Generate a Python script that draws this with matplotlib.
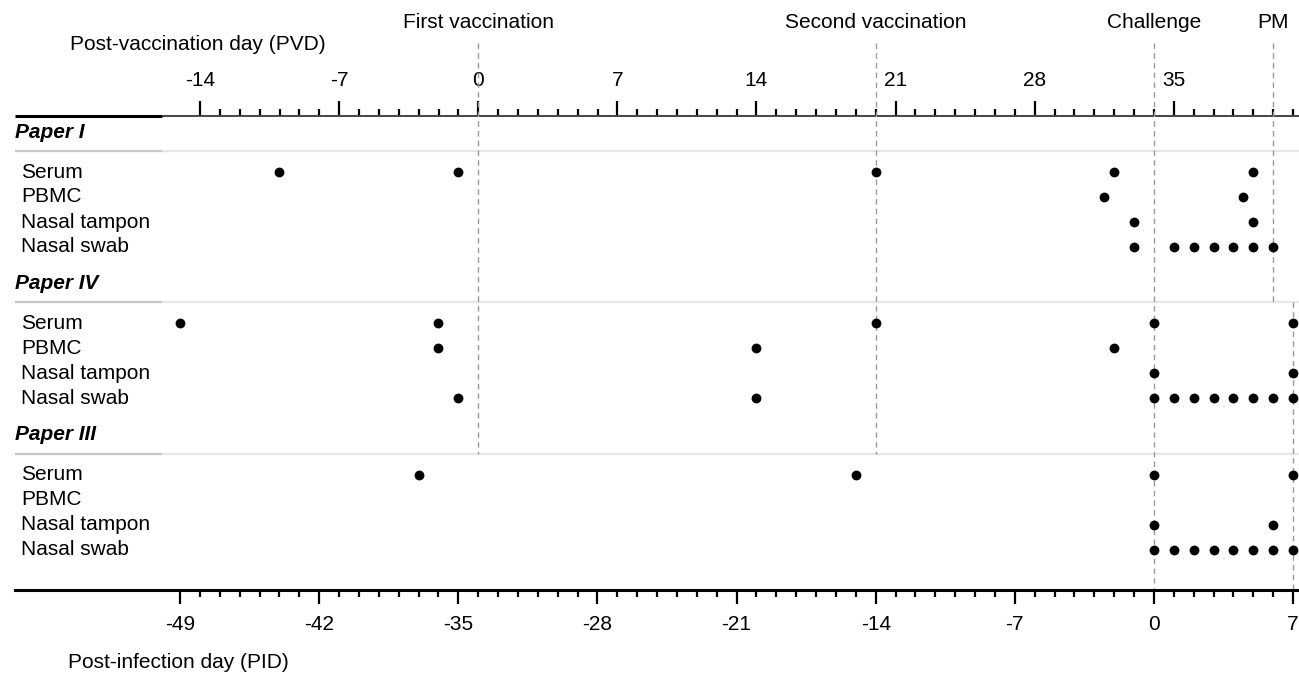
import matplotlib.pyplot as plt

plt.rcParams['font.family'] = ['Liberation Sans', 'DejaVu Sans']
plt.rcParams['axes.unicode_minus'] = False

# sampling days, post-infection day (PID)
samples = ['Serum', 'PBMC', 'Nasal tampon', 'Nasal swab']
papers = ['Paper I', 'Paper IV', 'Paper III']

p1_serum = [-44, -35, -14, -2, 5]
p1_pbmc = [-2.5, 4.5]
p1_tampon = [-1, 5]
p1_swab = [-1, 1, 2, 3, 4, 5, 6]

p4_serum = [-49, -36, -14, 0, 7]
p4_pbmc = [-36, -20, -2]
p4_tampon = [0, 7]
p4_swab = [-35, -20, 0, 1, 2, 3, 4, 5, 6, 7]

p3_serum = [-37, -15, 0, 7]
p3_pbmc = []
p3_tampon = [0, 6]
p3_swab = [0, 1, 2, 3, 4, 5, 6, 7]

paper_days = [
    [p1_serum, p1_pbmc, p1_tampon, p1_swab],
    [p4_serum, p4_pbmc, p4_tampon, p4_swab],
    [p3_serum, p3_pbmc, p3_tampon, p3_swab],
]

event_names = ['First vaccination', 'Second vaccination', 'Challenge', 'PM']
event_days = [-34, -14, 0, 6]
pvd_offset = 34  # PVD = PID + 34

W, H = 1299, 679
fs = 15
tfs = 15
fig = plt.figure(figsize=(W / 100, H / 100), dpi=100)
top_px, bot_px, left_px = 116, 590, 15
ax = fig.add_axes([left_px / W, 1 - bot_px / H, (W - left_px) / W, (bot_px - top_px) / H])

px_day = 19.875
x_zero = 1154
def px2day(p):
    return (p - x_zero) / px_day

xmin, xmax = px2day(left_px), px2day(W)
ax.set_xlim(xmin, xmax)
ax.set_ylim(bot_px, top_px)

for s in ['left', 'right', 'top']:
    ax.spines[s].set_visible(False)
ax.spines['bottom'].set_linewidth(2.2)
ax.yaxis.set_visible(False)

ax.set_xticks(range(-49, 8, 7))
ax.set_xticks(range(-49, 8), minor=True)
ax.tick_params(axis='x', which='major', length=10, width=1.6, pad=8, labelsize=tfs)
ax.tick_params(axis='x', which='minor', length=5, width=1.6)

sec = ax.secondary_xaxis('top', functions=(lambda d: d + pvd_offset, lambda d: d - pvd_offset))
for s in sec.spines.values():
    s.set_visible(False)
sec.set_xticks(range(-14, 36, 7))
sec.set_xticks(range(-14, 42), minor=True)
sec.tick_params(axis='x', which='major', length=11, width=1.6, pad=8, labelsize=tfs)
sec.tick_params(axis='x', which='minor', length=5, width=1.6)

# top axis line: thick black on the label column, thin dark grey over the timeline
split = px2day(162)
ax.plot([xmin, split], [top_px, top_px], color='black', lw=2.2, clip_on=False, solid_capstyle='butt')
ax.plot([split, xmax], [top_px, top_px], color='#444444', lw=1.4, clip_on=False, solid_capstyle='butt')

# sections
sec_step = 151.5
head0 = 132
row_gap = 25
sep_y = [head0 + 19 + k * sec_step for k in range(3)]
for i, (paper, days_list) in enumerate(zip(papers, paper_days)):
    yh = head0 + i * sec_step
    ax.text(xmin, yh, paper, fontsize=fs, fontweight='bold', style='italic',
            ha='left', va='center')
    ax.plot([xmin, split], [sep_y[i], sep_y[i]], color='#c8c8c8', lw=1.6, solid_capstyle='butt')
    ax.plot([split, xmax], [sep_y[i], sep_y[i]], color='#e6e6e6', lw=1.6, solid_capstyle='butt')
    for j, (name, days) in enumerate(zip(samples, days_list)):
        yr = yh + 40 + j * row_gap
        ax.text(px2day(21), yr, name, fontsize=fs, ha='left', va='center')
        if days:
            ax.scatter(days, [yr] * len(days), s=50, color='black', zorder=4,
                       clip_on=False, linewidths=0)

# event lines (dashed)
line_top = 43
segments = [
    (event_days[0], line_top, sep_y[2]),
    (event_days[1], line_top, sep_y[2]),
    (event_days[2], line_top, bot_px),
    (event_days[3], line_top, sep_y[1]),
    (7, sep_y[1], bot_px),
]
for d, y0, y1 in segments:
    ax.plot([d, d], [y0, y1], color='#9a9a9a', lw=1.0, dashes=(4, 3),
            clip_on=False, zorder=2)

for name, d in zip(event_names, event_days):
    ax.text(d, 22, name, fontsize=fs, ha='center', va='center')

fig.text(70 / W, 1 - 45 / H, 'Post-vaccination day (PVD)', fontsize=fs, ha='left', va='center')
fig.text(68 / W, 1 - 662 / H, 'Post-infection day (PID)', fontsize=fs, ha='left', va='center')

fig.savefig('out.png', dpi=100)
